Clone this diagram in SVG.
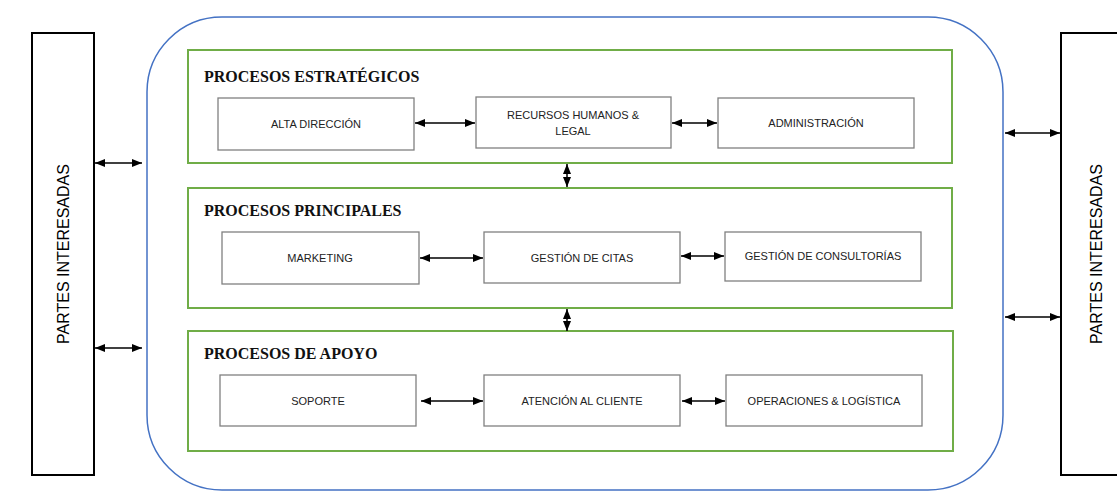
<svg xmlns="http://www.w3.org/2000/svg" width="1117" height="493" viewBox="0 0 1117 493">
<defs>
<marker id="ah" viewBox="0 0 10 8" refX="10" refY="4" markerWidth="10" markerHeight="8" markerUnits="userSpaceOnUse" orient="auto-start-reverse">
<path d="M0,0 L10,4 L0,8 Z" fill="#000"/>
</marker>
</defs>
<style>
.side{fill:#fff;stroke:#000;stroke-width:2}
.sidet{font-family:"Liberation Sans",Arial,sans-serif;font-size:16px;fill:#000;text-anchor:middle}
.outer{fill:#fff;stroke:#4472c4;stroke-width:1.5}
.grp{fill:none;stroke:#70ad47;stroke-width:2}
.title{font-family:"Liberation Serif","Times New Roman",serif;font-size:16px;font-weight:bold;fill:#111}
.box{fill:#fff;stroke:#808080;stroke-width:1.3}
.lbl{font-family:"Liberation Sans",Arial,sans-serif;font-size:11px;fill:#222;text-anchor:middle}
.con line{stroke:#000;stroke-width:1.5;marker-start:url(#ah);marker-end:url(#ah)}
</style>
<rect width="1117" height="493" fill="#fff"/>
<g id="partes-izq">
<rect class="side" x="32" y="33" width="62" height="442"/>
<text class="sidet" transform="translate(69,254) rotate(-90)">PARTES INTERESADAS</text>
</g>
<g id="partes-der">
<rect class="side" x="1061" y="33" width="80" height="442"/>
<text class="sidet" transform="translate(1102,254) rotate(-90)">PARTES INTERESADAS</text>
</g>
<g id="organizacion">
<rect class="outer" x="147" y="17" width="856" height="473" rx="75" ry="75"/>
</g>
<g id="estrategicos">
<rect class="grp" x="188" y="50" width="764" height="113"/>
<text class="title" x="204" y="82">PROCESOS ESTRATÉGICOS</text>
</g>
<g id="principales">
<rect class="grp" x="188" y="188" width="764" height="120"/>
<text class="title" x="204" y="216">PROCESOS PRINCIPALES</text>
</g>
<g id="apoyo">
<rect class="grp" x="188" y="331" width="765" height="120"/>
<text class="title" x="204" y="359">PROCESOS DE APOYO</text>
</g>
<g id="alta-direccion">
<rect class="box" x="218" y="98" width="196" height="52"/>
<text class="lbl" x="316" y="128">ALTA DIRECCIÓN</text>
</g>
<g id="rrhh-legal">
<rect class="box" x="476" y="97" width="195" height="51"/>
<text class="lbl" x="573" y="119">RECURSOS HUMANOS &amp;</text>
<text class="lbl" x="573" y="135">LEGAL</text>
</g>
<g id="administracion">
<rect class="box" x="718" y="98" width="196" height="50"/>
<text class="lbl" x="816" y="127">ADMINISTRACIÓN</text>
</g>
<g id="marketing">
<rect class="box" x="222" y="232" width="197" height="52"/>
<text class="lbl" x="320" y="262">MARKETING</text>
</g>
<g id="gestion-citas">
<rect class="box" x="484" y="232" width="196" height="51"/>
<text class="lbl" x="582" y="262">GESTIÓN DE CITAS</text>
</g>
<g id="gestion-consultorias">
<rect class="box" x="725" y="232" width="196" height="49"/>
<text class="lbl" x="823" y="260">GESTIÓN DE CONSULTORÍAS</text>
</g>
<g id="soporte">
<rect class="box" x="220" y="375" width="196" height="51"/>
<text class="lbl" x="318" y="405">SOPORTE</text>
</g>
<g id="atencion-cliente">
<rect class="box" x="484" y="375" width="196" height="51"/>
<text class="lbl" x="582" y="405">ATENCIÓN AL CLIENTE</text>
</g>
<g id="operaciones-logistica">
<rect class="box" x="726" y="375" width="196" height="51"/>
<text class="lbl" x="824" y="405">OPERACIONES &amp; LOGÍSTICA</text>
</g>
<g id="connectors" class="con">
<line x1="415" y1="123" x2="475" y2="123"/>
<line x1="672" y1="123" x2="717" y2="123"/>
<line x1="420" y1="258" x2="483" y2="258"/>
<line x1="681" y1="256" x2="724" y2="256"/>
<line x1="421" y1="401" x2="483" y2="401"/>
<line x1="682" y1="401" x2="725" y2="401"/>
<line x1="567" y1="164" x2="567" y2="187"/>
<line x1="567" y1="309" x2="567" y2="331"/>
<line x1="95" y1="163" x2="142" y2="163"/>
<line x1="95" y1="348" x2="142" y2="348"/>
<line x1="1005" y1="133" x2="1060" y2="133"/>
<line x1="1005" y1="317" x2="1060" y2="317"/>
</g>
</svg>
